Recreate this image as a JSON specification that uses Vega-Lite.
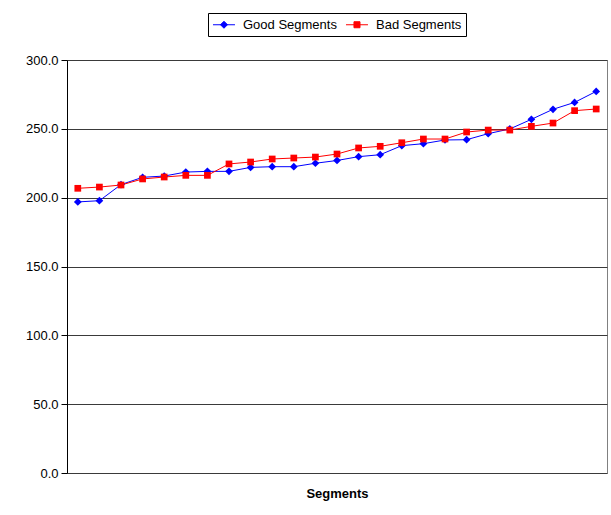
{
  "$schema": "https://vega.github.io/schema/vega-lite/v6.json",
  "width": 540,
  "height": 413,
  "autosize": {"type": "none"},
  "padding": {"left": 67, "top": 60, "right": 4, "bottom": 42},
  "background": "white",
  "config": {
    "font": "Liberation Sans",
    "view": {"stroke": "#808080", "strokeWidth": 1},
    "axis": {"labelFont": "Liberation Sans", "titleFont": "Liberation Sans", "labelColor": "black", "titleColor": "black"}
  },
  "data": {"values": [
    {"seg": 1, "series": "Good Segments", "value": 196.9},
    {"seg": 2, "series": "Good Segments", "value": 197.8},
    {"seg": 3, "series": "Good Segments", "value": 209.5},
    {"seg": 4, "series": "Good Segments", "value": 214.8},
    {"seg": 5, "series": "Good Segments", "value": 215.7},
    {"seg": 6, "series": "Good Segments", "value": 218.6},
    {"seg": 7, "series": "Good Segments", "value": 219.1},
    {"seg": 8, "series": "Good Segments", "value": 219.1},
    {"seg": 9, "series": "Good Segments", "value": 222.0},
    {"seg": 10, "series": "Good Segments", "value": 222.5},
    {"seg": 11, "series": "Good Segments", "value": 222.5},
    {"seg": 12, "series": "Good Segments", "value": 225.0},
    {"seg": 13, "series": "Good Segments", "value": 227.0},
    {"seg": 14, "series": "Good Segments", "value": 229.8},
    {"seg": 15, "series": "Good Segments", "value": 231.2},
    {"seg": 16, "series": "Good Segments", "value": 237.8},
    {"seg": 17, "series": "Good Segments", "value": 239.2},
    {"seg": 18, "series": "Good Segments", "value": 241.9},
    {"seg": 19, "series": "Good Segments", "value": 242.1},
    {"seg": 20, "series": "Good Segments", "value": 246.5},
    {"seg": 21, "series": "Good Segments", "value": 249.9},
    {"seg": 22, "series": "Good Segments", "value": 256.9},
    {"seg": 23, "series": "Good Segments", "value": 264.2},
    {"seg": 24, "series": "Good Segments", "value": 269.2},
    {"seg": 25, "series": "Good Segments", "value": 277.2},
    {"seg": 1, "series": "Bad Segments", "value": 206.8},
    {"seg": 2, "series": "Bad Segments", "value": 207.7},
    {"seg": 3, "series": "Bad Segments", "value": 209.2},
    {"seg": 4, "series": "Bad Segments", "value": 213.6},
    {"seg": 5, "series": "Bad Segments", "value": 215.0},
    {"seg": 6, "series": "Bad Segments", "value": 216.2},
    {"seg": 7, "series": "Bad Segments", "value": 216.2},
    {"seg": 8, "series": "Bad Segments", "value": 224.5},
    {"seg": 9, "series": "Bad Segments", "value": 225.9},
    {"seg": 10, "series": "Bad Segments", "value": 228.1},
    {"seg": 11, "series": "Bad Segments", "value": 228.8},
    {"seg": 12, "series": "Bad Segments", "value": 229.5},
    {"seg": 13, "series": "Bad Segments", "value": 231.7},
    {"seg": 14, "series": "Bad Segments", "value": 236.1},
    {"seg": 15, "series": "Bad Segments", "value": 237.3},
    {"seg": 16, "series": "Bad Segments", "value": 239.9},
    {"seg": 17, "series": "Bad Segments", "value": 242.6},
    {"seg": 18, "series": "Bad Segments", "value": 242.6},
    {"seg": 19, "series": "Bad Segments", "value": 247.7},
    {"seg": 20, "series": "Bad Segments", "value": 249.1},
    {"seg": 21, "series": "Bad Segments", "value": 249.1},
    {"seg": 22, "series": "Bad Segments", "value": 251.8},
    {"seg": 23, "series": "Bad Segments", "value": 254.2},
    {"seg": 24, "series": "Bad Segments", "value": 263.2},
    {"seg": 25, "series": "Bad Segments", "value": 264.4}
  ]},
  "encoding": {
    "x": {
      "field": "seg", "type": "ordinal",
      "scale": {"type": "point", "padding": 0.5},
      "axis": {"title": "Segments", "labels": false, "ticks": false, "domain": false, "grid": false,
               "titleFontSize": 13, "titleFontWeight": "bold", "titlePadding": 14}
    },
    "y": {
      "field": "value", "type": "quantitative",
      "scale": {"domain": [0, 300], "nice": false, "zero": true},
      "axis": {"title": null, "values": [0, 50, 100, 150, 200, 250, 300], "format": ".1f",
               "labelFontSize": 13, "labelPadding": 3, "tickSize": 6, "tickColor": "black",
               "domainColor": "black", "grid": true, "gridColor": "#3a3a3a", "gridOpacity": 1}
    },
    "color": {
      "field": "series", "type": "nominal",
      "scale": {"domain": ["Good Segments", "Bad Segments"], "range": ["#0000ff", "#ff0000"]},
      "legend": {
        "title": null, "orient": "none", "direction": "horizontal",
        "legendX": 141, "legendY": -47,
        "strokeColor": "black", "fillColor": "white", "padding": 4,
        "labelFontSize": 13, "labelColor": "black", "labelFont": "Liberation Sans",
        "symbolType": "M-0.93,0L2.21,0M0.64,-0.5L1.14,0L0.64,0.5L0.14,0Z",
        "symbolSize": 196, "symbolStrokeWidth": 1, "labelOffset": 16, "columnPadding": 6,
        "symbolOpacity": 1,
        "encode": {
          "symbols": {
            "update": {
              "shape": {"signal": "datum.value === 'Good Segments' ? 'M-0.93,0L2.21,0M0.64,-0.5L1.14,0L0.64,0.5L0.14,0Z' : 'M-0.93,0L2.21,0M0.21,-0.43L1.07,-0.43L1.07,0.43L0.21,0.43Z'"},
              "fill": {"signal": "datum.value === 'Good Segments' ? '#0000ff' : '#ff0000'"},
              "stroke": {"signal": "datum.value === 'Good Segments' ? '#0000ff' : '#ff0000'"},
              "strokeWidth": {"value": 1},
              "opacity": {"value": 1}
            }
          }
        }
      }
    }
  },
  "layer": [
    {"mark": {"type": "line", "strokeWidth": 1}},
    {
      "transform": [{"filter": "datum.series === 'Good Segments'"}],
      "mark": {"type": "point", "filled": true, "opacity": 1, "shape": "diamond", "size": 60}
    },
    {
      "transform": [{"filter": "datum.series === 'Bad Segments'"}],
      "mark": {"type": "point", "filled": true, "opacity": 1, "shape": "square", "size": 45}
    }
  ]
}
